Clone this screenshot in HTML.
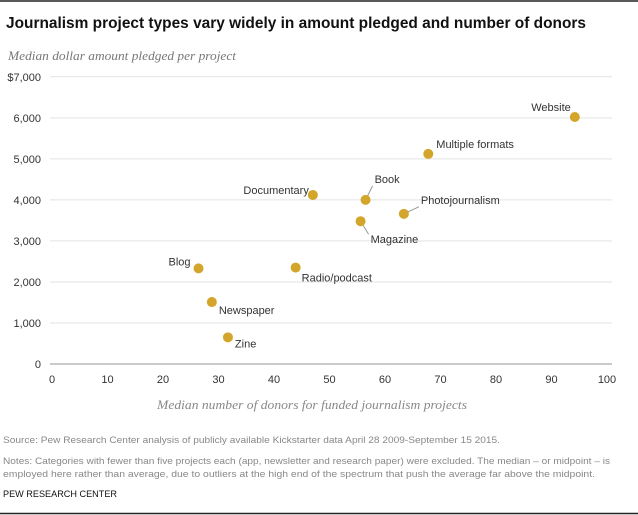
<!DOCTYPE html>
<html><head><meta charset="utf-8"><style>
body{margin:0;background:#fff;}
svg{display:block;font-family:"Liberation Sans",sans-serif;}
</style></head><body>
<svg id="chart" width="638" height="515" viewBox="0 0 638 515" xmlns="http://www.w3.org/2000/svg">
<line x1="0" y1="1" x2="638" y2="1" stroke="#222" stroke-width="1.5"/>
<text x="6" y="28" font-size="16" font-weight="bold" fill="#111" textLength="580" lengthAdjust="spacingAndGlyphs">Journalism project types vary widely in amount pledged and number of donors</text>
<text x="8" y="60" font-size="12.5" font-style="italic" fill="#777" font-family="Liberation Serif, serif" textLength="228" lengthAdjust="spacingAndGlyphs">Median dollar amount pledged per project</text>
<g id="grid"></g>
<g id="yticks"></g>
<g id="xticks"></g>
<g id="points"></g>
<text x="312" y="409" font-size="12.5" font-style="italic" fill="#888" text-anchor="middle" font-family="Liberation Serif, serif" textLength="310" lengthAdjust="spacingAndGlyphs">Median number of donors for funded journalism projects</text>
<text x="3" y="443" font-size="9.5" fill="#888" textLength="497" lengthAdjust="spacingAndGlyphs">Source: Pew Research Center analysis of publicly available Kickstarter data April 28 2009-September 15 2015.</text>
<text x="3" y="464" font-size="9.5" fill="#888" textLength="607" lengthAdjust="spacingAndGlyphs">Notes: Categories with fewer than five projects each (app, newsletter and research paper) were excluded. The median – or midpoint – is</text>
<text x="3" y="477" font-size="9.5" fill="#888" textLength="592" lengthAdjust="spacingAndGlyphs">employed here rather than average, due to outliers at the high end of the spectrum that push the average far above the midpoint.</text>
<text x="3" y="497" font-size="9.5" fill="#111" textLength="114" lengthAdjust="spacingAndGlyphs">PEW RESEARCH CENTER</text>
<line x1="0" y1="513.5" x2="638" y2="513.5" stroke="#222" stroke-width="1.5"/>
</svg>
<script>
const categories=["Website","Multiple formats","Documentary","Book","Photojournalism","Magazine","Blog","Radio/podcast","Newspaper","Zine"];
const donors=[94.2,67.8,47.0,56.5,63.4,55.6,26.4,43.9,28.8,31.7];
const pledged=[6020,5120,4120,4000,3660,3480,2330,2350,1510,650];
const yTicks=[0,1000,2000,3000,4000,5000,6000,7000];
const yTickLabels=["0","1,000","2,000","3,000","4,000","5,000","6,000","$7,000"];
const xTicks=[0,10,20,30,40,50,60,70,80,90,100];
// label offsets (dx,dy,anchor, leader) relative to point
const labelPos=[[-4,-6,"end",0],[8,-6,"start",0],[-4,-1,"end",0],[9,-17,"start",1],[17,-10,"start",1],[10,22,"start",1],[-8,-3,"end",0],[6,14,"start",0],[7,12,"start",0],[7,10,"start",0]];
const NS="http://www.w3.org/2000/svg";
const x=v=>52+v*5.55;
const y=v=>364-v*0.04103;
function mk(tag,attrs,parent){const e=document.createElementNS(NS,tag);for(const k in attrs)e.setAttribute(k,attrs[k]);parent.appendChild(e);return e;}
const grid=document.getElementById('grid'),yt=document.getElementById('yticks'),xt=document.getElementById('xticks'),pts=document.getElementById('points');
yTicks.forEach((t,i)=>{
  const l=mk('line',{x1:50,x2:612,y1:y(t),y2:y(t),stroke:t===0?'#aaa':'#e3e3e3','stroke-width':t===0?1.2:1},grid);
  
  
  const tx=mk('text',{x:41,y:y(t)+4,'font-size':11,fill:'#333','text-anchor':'end'},yt);
  tx.textContent=yTickLabels[i];
  
  
});
xTicks.forEach(t=>{
  const tx=mk('text',{x:x(t),y:383,'font-size':11,fill:'#333','text-anchor':'middle'},xt);
  tx.textContent=t;
  
  
});
categories.forEach((c,i)=>{
  const px=x(donors[i]),py=y(pledged[i]);
  const lp=labelPos[i];
  const slug=c.toLowerCase().replace(/[^a-z]+/g,'-');
  if(lp[3]){
    const ld=mk('line',{x1:px,y1:py,x2:px+lp[0]-2*Math.sign(lp[0]),y2:py+lp[1]+(lp[1]<0?3:-9),stroke:'#999','stroke-width':1},pts);
    
    
  }
  const d=mk('circle',{cx:px,cy:py,r:5,fill:'#d3a52a'},pts);
  
  
  const t=mk('text',{x:px+lp[0],y:py+lp[1],'font-size':11,fill:'#333','text-anchor':lp[2]},pts);
  t.textContent=c;
  
  
});
</script>
</body></html>
